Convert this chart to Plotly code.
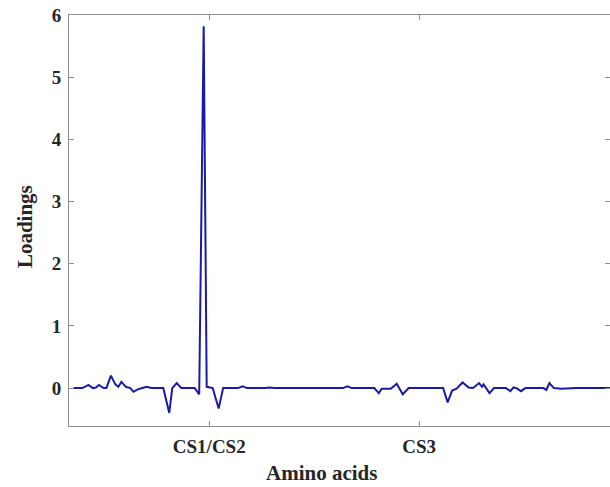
import plotly.graph_objects as go

# Amino-acid position (residue index) and loading value
residue = [3, 9, 13, 16, 18, 20, 23, 25, 28, 31, 33, 35, 38, 41, 43, 46, 49, 52, 55,
           63, 67, 69, 72, 75, 84, 87, 90, 92, 96, 100, 103, 113, 116, 119, 131, 134, 137,
           183, 186, 189, 204, 207, 209, 215, 219, 223, 227, 250, 253, 256, 259, 263, 267,
           270, 274, 276, 277, 281, 284, 292, 295, 297, 299, 302, 305, 317, 319, 321, 324,
           329, 339, 362]
loadings = [0, 0, 0.05, 0, 0.01, 0.05, 0, 0, 0.2, 0.06, 0.02, 0.1, 0.02, 0, -0.06, -0.02, 0, 0.02, 0,
            0, -0.4, 0, 0.08, 0, 0, -0.1, 5.82, 0.02, 0, -0.33, 0, 0, 0.03, 0, 0, 0.01, 0,
            0, 0.03, 0, 0, -0.08, -0.01, -0.01, 0.07, -0.1, 0, 0, -0.23, -0.04, -0.01, 0.09, 0.01,
            0, 0.08, 0.02, 0.06, -0.08, 0, 0, -0.05, 0.01, 0, -0.05, 0, 0, -0.03, 0.08, 0,
            -0.01, 0, 0]
assert len(residue) == len(loadings)

x_tick_positions = [93.7, 234]
x_tick_labels = ["CS1/CS2", "CS3"]
y_ticks = [0, 1, 2, 3, 4, 5, 6]

X_RANGE = [0, 361.5]
Y_RANGE = [-0.61, 6]

AXIS_COLOR = "#8c8c8c"
TEXT_COLOR = "#262626"
FONT = "Liberation Serif"

fig = go.Figure()
fig.add_trace(go.Scatter(
    x=residue, y=loadings, mode="lines",
    line=dict(color="#1a1aa8", width=2),
    showlegend=False, hoverinfo="skip",
))
# invisible trace to activate the right-hand tick axis
fig.add_trace(go.Scatter(x=[residue[0]], y=[loadings[0]], yaxis="y2",
                         mode="markers", marker=dict(opacity=0), showlegend=False,
                         hoverinfo="skip"))

title_font = dict(family=FONT, size=21, weight="bold", color=TEXT_COLOR)

fig.update_layout(
    width=610, height=487,
    margin=dict(l=69, r=0, t=15, b=61, autoexpand=False),
    paper_bgcolor="white", plot_bgcolor="white",
    font=dict(family=FONT, color=TEXT_COLOR),
    hovermode=False,
    xaxis=dict(
        range=X_RANGE, tickmode="array", tickvals=x_tick_positions, ticktext=x_tick_labels,
        ticks="inside", ticklen=5, tickcolor=AXIS_COLOR, tickwidth=1,
        showline=True, linecolor=AXIS_COLOR, linewidth=1, mirror="ticks",
        showgrid=False, zeroline=False, automargin=False, ticklabelstandoff=3,
        ticklabeloverflow="allow",
        tickfont=dict(family=FONT, size=19, weight="bold", color=TEXT_COLOR),
    ),
    yaxis=dict(
        range=Y_RANGE, tickmode="array", tickvals=y_ticks,
        ticks="inside", ticklen=5, tickcolor=AXIS_COLOR, tickwidth=1,
        showline=True, linecolor=AXIS_COLOR, linewidth=1, mirror=False,
        showgrid=False, zeroline=False, automargin=False, ticklabelstandoff=3,
        ticklabeloverflow="allow",
        tickfont=dict(family=FONT, size=19, weight="bold", color=TEXT_COLOR),
    ),
    yaxis2=dict(
        range=Y_RANGE, overlaying="y", side="right", tickmode="array", tickvals=y_ticks,
        ticks="inside", ticklen=5, tickcolor=AXIS_COLOR, tickwidth=1,
        showticklabels=False, showline=False, linewidth=0, linecolor="rgba(0,0,0,0)",
        showgrid=False, zeroline=False, automargin=False,
    ),
    annotations=[
        dict(text="Amino acids", xref="paper", yref="paper", x=0.466, y=-0.114,
             xanchor="center", yanchor="middle", showarrow=False, font=title_font),
        dict(text="Loadings", xref="paper", yref="paper", x=-0.0813, y=0.484,
             xanchor="center", yanchor="middle", textangle=-90, showarrow=False,
             font=title_font),
    ],
)

# remove the page's default 8px body margin so the figure fills the window exactly
fig.write_html("out.html", config={"displayModeBar": False},
               post_script="document.body.style.margin='0';")
